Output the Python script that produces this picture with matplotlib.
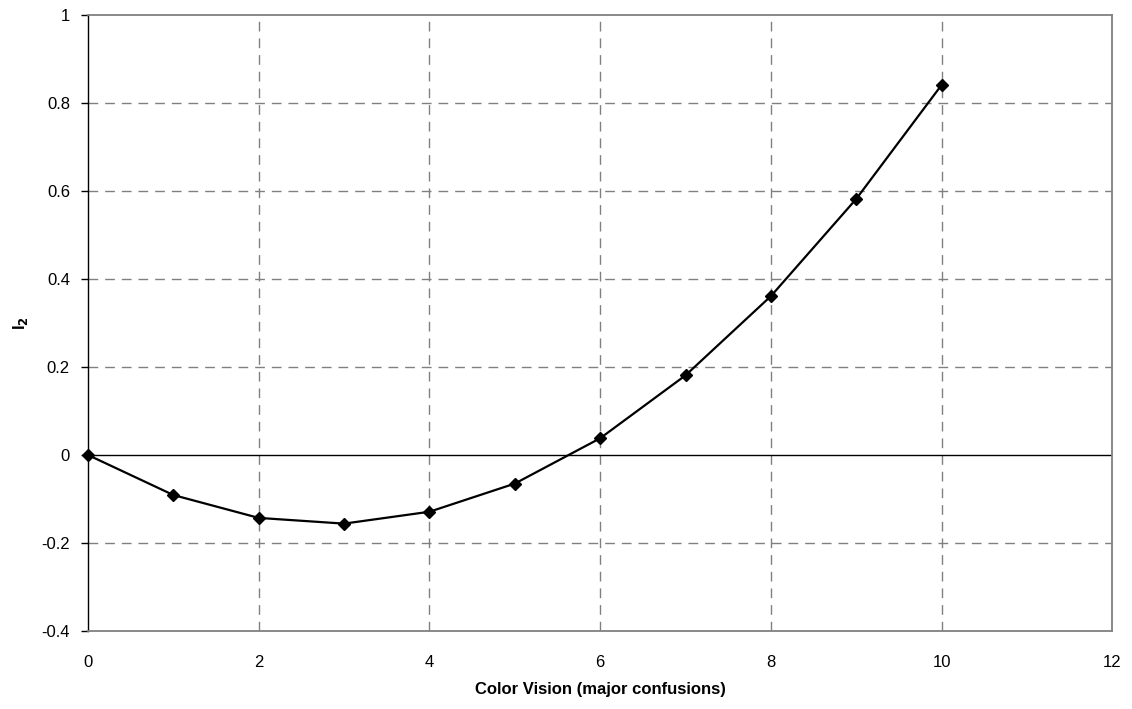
import matplotlib
matplotlib.use("Agg")
import matplotlib.pyplot as plt

# values
color_vision = [0, 1, 2, 3, 4, 5, 6, 7, 8, 9, 10]
i2_values = [0.0, -0.091, -0.143, -0.156, -0.129, -0.065, 0.038, 0.181, 0.361, 0.582, 0.841]

x_ticks = [0, 2, 4, 6, 8, 10, 12]
y_ticks = [-0.4, -0.2, 0, 0.2, 0.4, 0.6, 0.8, 1]
y_tick_labels = ["-0.4", "-0.2", "0", "0.2", "0.4", "0.6", "0.8", "1"]

plt.rcParams["font.family"] = ["Liberation Sans", "DejaVu Sans"]

fig = plt.figure(figsize=(11.32, 7.09), dpi=100)
ax = fig.add_axes([0.0777, 0.110, 0.905, 0.869])

grid_kw = dict(color="#808080", linewidth=1.0, linestyle=(0, (7, 5)), zorder=1)
for x in x_ticks[1:-1]:
    ax.axvline(x, **grid_kw)
for y in y_ticks[1:-1]:
    if y != 0:
        ax.axhline(y, **grid_kw)
ax.axhline(0, color="black", linewidth=1.0, zorder=2)

ax.plot(color_vision, i2_values, color="black", linewidth=1.6, marker="D",
        markersize=6.5, zorder=3, clip_on=False)

ax.set_xlim(0, 12)
ax.set_ylim(-0.4, 1)
ax.set_xticks(x_ticks)
ax.set_yticks(y_ticks)
ax.set_yticklabels(y_tick_labels)
ax.tick_params(axis="both", labelsize=12, direction="out", length=5, width=1)
ax.tick_params(axis="y", pad=8)
ax.tick_params(axis="x", length=0, pad=17)

for side in ["top", "right", "bottom"]:
    ax.spines[side].set_color("#808080")
    ax.spines[side].set_linewidth(1.3)
ax.spines["left"].set_color("black")
ax.spines["left"].set_linewidth(1.0)

ax.set_xlabel("Color Vision (major confusions)", fontsize=12, fontweight="bold", labelpad=9)
ax.set_ylabel("I$_\\mathbf{2}$", fontsize=12, fontweight="bold")
ax.yaxis.set_label_coords(-0.057, 0.5)

fig.savefig("out.png", dpi=100)
